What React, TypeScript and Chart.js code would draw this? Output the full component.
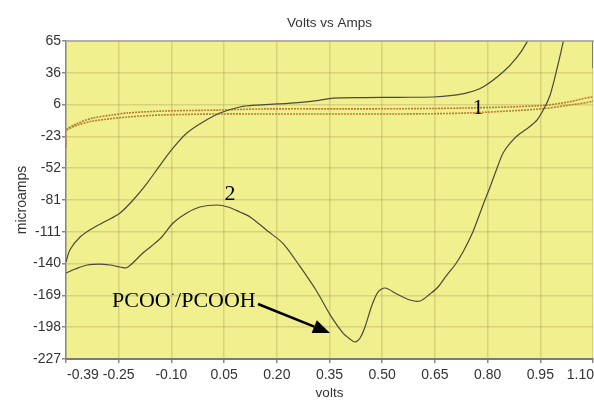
import React, { useEffect, useRef } from 'react';
import { Chart, registerables } from 'chart.js';

Chart.register(...registerables);

// Axis ticks (volts along x, microamps along y)
const voltTicks = [-0.4, -0.25, -0.1, 0.05, 0.2, 0.35, 0.5, 0.65, 0.8, 0.95, 1.1];
const voltTickLabels = ['-0.39', '-0.25', '-0.10', '0.05', '0.20', '0.35', '0.50', '0.65', '0.80', '0.95', '1.10'];
const ampTicks = [-227, -197.8, -168.6, -139.4, -110.2, -81, -51.8, -22.6, 6.6, 35.8, 65];
const ampTickLabels = ['-227', '-198', '-169', '-140', '-111', '-81', '-52', '-23', '6', '36', '65'];

// Scan 1: small loop, forward sweep then return sweep
const scan1Volts = [
  -0.4, -0.4, -0.4, -0.37, -0.323, -0.27, -0.226, -0.124, 0.038, 0.152, 0.4, 0.551, 0.741, 0.949, 1.03, 1.1,
  1.1, 1.03, 0.949, 0.741, 0.551, 0.3, 0.152, 0.038, -0.124, -0.226, -0.323, -0.37, -0.4,
];
const scan1Amps = [
  -33, -25, -17, -11, -5.7, -3.0, -1.1, 0.7, 1.6, 2.6, 2.7, 2.8, 3.5, 5.6, 9, 13.6,
  9.9, 6, 2.6, -1.1, -2.0, -2.0, -2.0, -2.0, -2.9, -4.8, -8.5, -12.5, -17,
];

// Scan 2: forward sweep (upper branch), switching at 1.10 V, return sweep (lower branch)
const scan2Volts = [
  -0.4, -0.389, -0.36, -0.323, -0.286, -0.246, -0.209, -0.169, -0.132, -0.095, -0.056, -0.01, 0.038, 0.095,
  0.144, 0.2, 0.26, 0.32, 0.36, 0.45, 0.55, 0.645, 0.7, 0.741, 0.787, 0.844, 0.884, 0.912, 0.935, 1.0,
  1.1, 1.1, 1.1, 1.1, 1.1, 1.05, 1.023,
  1.015, 0.998, 0.978, 0.963, 0.941, 0.915, 0.887, 0.864, 0.844, 0.827, 0.807, 0.787, 0.758, 0.73, 0.707,
  0.684, 0.659, 0.636, 0.608, 0.579, 0.542, 0.508, 0.488, 0.471, 0.451, 0.437, 0.423, 0.408, 0.388, 0.351,
  0.314, 0.266, 0.218, 0.172, 0.124, 0.095, 0.061, 0.03, -0.019, -0.056, -0.095, -0.132, -0.181, -0.226,
  -0.246, -0.275, -0.303, -0.34, -0.374, -0.4,
];
const scan2Amps = [
  -138, -126.9, -115, -106.7, -100.3, -92.9, -81, -65.4, -48.9, -33.2, -19.5, -9.4, -1.1, 4.4,
  6.2, 7.2, 8.5, 10.5, 12.5, 13.0, 13.3, 13.6, 15.0, 17.3, 22.8, 36.5, 50.3, 64, 80, 200,
  200, 120, 40, 120, 200, 200, 77,
  64, 40.2, 15.4, 4.4, -7.5, -14.9, -21.3, -28.7, -37.8, -51.6, -69.1, -85.6, -110.4, -128.8, -140.7,
  -149.9, -160.9, -167.3, -173.7, -172.8, -167.3, -161.8, -165.5, -177.4, -197.6, -207.7, -211.4, -208.6, -203, -186,
  -165, -142, -121, -109, -96.6, -92, -87.4, -85.6, -87.4, -92.9, -102.1, -116.5, -129.7, -143,
  -142.5, -140.7, -139.8, -140.7, -144.4, -148,
];

// Text placed in data units
const curveTags = ['1', '2'];
const curveTagVolts = [0.773, 0.067];
const curveTagAmps = [-2.0, -81.0];
const noteVolt = -0.269;
const noteAmp = -179.2;
const arrowFromVolt = 0.1465;
const arrowFromAmp = -176.5;
const arrowToVolt = 0.3514;
const arrowToAmp = -203.1;

const toPoints = (xs: number[], ys: number[]) => xs.map((x, i) => ({ x, y: ys[i] }));

const SANS = '"Liberation Sans", Arial, sans-serif';
const SERIF = '"Liberation Serif", "Times New Roman", serif';

const plotDecor = {
  id: 'plotDecor',
  beforeDraw(chart: any) {
    const { ctx, chartArea: a } = chart;
    ctx.save();
    ctx.fillStyle = '#F0F08F';
    ctx.fillRect(a.left, a.top, a.right - a.left, a.bottom - a.top);
    ctx.restore();
  },
  afterDraw(chart: any) {
    const { ctx, chartArea: a } = chart;
    const xs = chart.scales.x;
    const ys = chart.scales.y;
    ctx.save();

    // top frame line
    ctx.strokeStyle = '#a0a0a0';
    ctx.lineWidth = 1.5;
    ctx.beginPath();
    ctx.moveTo(a.left, a.top);
    ctx.lineTo(a.right + 1, a.top);
    ctx.stroke();

    // title
    ctx.fillStyle = '#333';
    ctx.font = `13.5px ${SANS}`;
    ctx.textAlign = 'center';
    ctx.textBaseline = 'alphabetic';
    ctx.fillText('Volts vs Amps', (a.left + a.right) / 2, 27);

    // x tick labels; the end labels are kept inside the plot width
    ctx.font = `14px ${SANS}`;
    ctx.textBaseline = 'top';
    voltTicks.forEach((v, i) => {
      const px = xs.getPixelForValue(v);
      if (i === 0) {
        ctx.textAlign = 'left';
        ctx.fillText(voltTickLabels[i], px + 1, a.bottom + 9);
      } else if (i === voltTicks.length - 1) {
        ctx.textAlign = 'right';
        ctx.fillText(voltTickLabels[i], chart.width, a.bottom + 9);
      } else {
        ctx.textAlign = 'center';
        ctx.fillText(voltTickLabels[i], px, a.bottom + 9);
      }
    });

    // curve tags
    ctx.fillStyle = '#000';
    ctx.font = `22px ${SERIF}`;
    ctx.textAlign = 'center';
    ctx.textBaseline = 'alphabetic';
    curveTags.forEach((t, i) => {
      ctx.fillText(t, xs.getPixelForValue(curveTagVolts[i]), ys.getPixelForValue(curveTagAmps[i]));
    });

    // peak note with superscript radical dot
    const nx = xs.getPixelForValue(noteVolt);
    const ny = ys.getPixelForValue(noteAmp);
    ctx.textAlign = 'left';
    ctx.font = `22px ${SERIF}`;
    ctx.fillText('PCOO', nx, ny);
    let w = ctx.measureText('PCOO').width;
    ctx.font = `13px ${SERIF}`;
    ctx.fillText('·', nx + w, ny - 9);
    w += ctx.measureText('·').width;
    ctx.font = `22px ${SERIF}`;
    ctx.fillText('/PCOOH', nx + w, ny);

    // arrow
    const x0 = xs.getPixelForValue(arrowFromVolt);
    const y0 = ys.getPixelForValue(arrowFromAmp);
    const x1 = xs.getPixelForValue(arrowToVolt);
    const y1 = ys.getPixelForValue(arrowToAmp);
    const ang = Math.atan2(y1 - y0, x1 - x0);
    const headLen = 17;
    const headHalf = 7;
    const bx = x1 - headLen * Math.cos(ang);
    const by = y1 - headLen * Math.sin(ang);
    ctx.strokeStyle = '#000';
    ctx.lineWidth = 2.6;
    ctx.beginPath();
    ctx.moveTo(x0, y0);
    ctx.lineTo(bx, by);
    ctx.stroke();
    ctx.beginPath();
    ctx.moveTo(x1, y1);
    ctx.lineTo(bx + headHalf * Math.sin(ang), by - headHalf * Math.cos(ang));
    ctx.lineTo(bx - headHalf * Math.sin(ang), by + headHalf * Math.cos(ang));
    ctx.closePath();
    ctx.fill();

    ctx.restore();
  },
};

export default function App() {
  const canvasRef = useRef<HTMLCanvasElement | null>(null);

  useEffect(() => {
    if (!canvasRef.current) return;
    const chart = new Chart(canvasRef.current, {
      type: 'scatter',
      data: {
        datasets: [
          {
            label: '2',
            data: toPoints(scan2Volts, scan2Amps),
            showLine: true,
            borderColor: '#4a4a3c',
            borderWidth: 1.2,
            pointRadius: 0,
            tension: 0.3,
          },
          {
            label: '1',
            data: toPoints(scan1Volts, scan1Amps),
            showLine: true,
            borderColor: 'rgba(178,112,42,0.9)',
            borderWidth: 1.6,
            borderDash: [2, 1],
            pointRadius: 0,
            tension: 0.3,
          },
        ],
      },
      options: {
        animation: false,
        responsive: true,
        maintainAspectRatio: false,
        layout: { padding: { top: 41, right: 1, left: 0, bottom: 0 } },
        elements: { line: { capBezierPoints: false } },
        plugins: {
          legend: { display: false },
          title: { display: false },
          tooltip: { enabled: false },
        },
        scales: {
          x: {
            type: 'linear',
            min: -0.4,
            max: 1.1,
            afterBuildTicks: (s: any) => {
              s.ticks = voltTicks.map((v) => ({ value: v }));
            },
            afterFit: (s: any) => {
              s.height = 42;
            },
            ticks: { display: false },
            grid: { color: 'rgba(165,150,80,0.32)', lineWidth: 1.5, tickLength: 4, tickColor: '#888' },
            border: { color: '#7a7a7a', width: 2 },
            title: {
              display: true,
              text: 'volts',
              color: '#333',
              font: { family: SANS, size: 13.5 },
              padding: { top: 0, bottom: 0 },
            },
          },
          y: {
            type: 'linear',
            min: -227,
            max: 65,
            afterBuildTicks: (s: any) => {
              s.ticks = ampTicks.map((v) => ({ value: v }));
            },
            afterFit: (s: any) => {
              s.width = 66;
            },
            ticks: {
              color: '#333',
              font: { family: SANS, size: 14 },
              padding: 1,
              callback: (_v: any, i: number) => ampTickLabels[i],
            },
            grid: { color: 'rgba(165,150,80,0.32)', lineWidth: 1.5, tickLength: 4, tickColor: '#888' },
            border: { color: '#8a8a8a', width: 1.5 },
            title: {
              display: true,
              text: 'microamps',
              color: '#333',
              font: { family: SANS, size: 14 },
              padding: { top: 14, bottom: 0 },
            },
          },
        },
      },
      plugins: [plotDecor],
    });
    return () => chart.destroy();
  }, []);

  return (
    <div style={{ position: 'absolute', left: 0, top: 0, width: 594, height: 401, background: '#fff' }}>
      <canvas ref={canvasRef} />
    </div>
  );
}
